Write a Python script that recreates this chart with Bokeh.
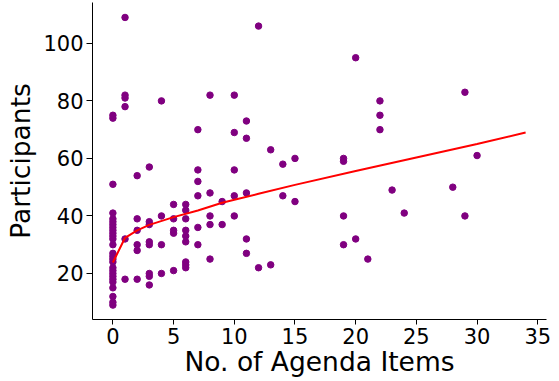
from bokeh.plotting import figure
from bokeh.models import Range1d, FixedTicker
from bokeh.embed import file_html
from bokeh.resources import INLINE

# ---- data ----
agenda_items = (
    [0] * 27
    + [1] * 6
    + [2] * 6
    + [3] * 8
    + [4] * 4
    + [5] * 5
    + [6] * 9
    + [7] * 6
    + [8] * 5
    + [9] * 2
    + [10] * 5
    + [11] * 5
    + [12] * 2
    + [13] * 2
    + [14] * 2
    + [15] * 2
    + [19] * 4
    + [20] * 2
    + [21]
    + [22] * 3
    + [23]
    + [24]
    + [28]
    + [29] * 2
    + [30]
)
participants = (
    [75, 74, 51, 41, 39, 38, 37, 36, 35, 34, 33, 32, 30, 27, 26, 25, 24, 22, 21, 20, 19, 18, 17, 15, 12, 10, 9]
    + [109, 82, 81, 78, 32, 18]
    + [54, 39, 35, 30, 28, 18]
    + [57, 38, 37, 31, 30, 20, 19, 16]
    + [80, 40, 30, 20]
    + [44, 39, 35, 34, 21]
    + [44, 42, 39, 35, 33, 31, 24, 23, 22]
    + [70, 56, 52, 47, 36, 30]
    + [82, 48, 40, 37, 25]
    + [45, 37]
    + [82, 69, 56, 47, 40]
    + [73, 67, 48, 32, 27]
    + [106, 22]
    + [63, 23]
    + [58, 47]
    + [60, 45]
    + [60, 59, 40, 30]
    + [95, 32]
    + [25]
    + [80, 75, 70]
    + [49]
    + [41]
    + [50]
    + [83, 40]
    + [61]
)

fit_x = [0, 1, 2, 3, 5, 7, 9, 12, 15, 20, 25, 30, 34]
fit_y = [23.8, 32.4, 35.0, 36.9, 39.6, 41.9, 44.6, 47.7, 50.8, 55.6, 60.3, 65.0, 69.0]

x_ticks = [0, 5, 10, 15, 20, 25, 30, 35]
y_ticks = [20, 40, 60, 80, 100]

x_title = "No. of Agenda Items"
y_title = "Participants"

FONT = "DejaVu Sans"

p = figure(
    width=555, height=379,
    output_backend="svg", toolbar_location=None,
    x_range=Range1d(-1.68, 35.72), y_range=Range1d(4.0, 114.2),
    min_border_left=92, min_border_right=9, min_border_top=2, min_border_bottom=58,
)
p.outline_line_color = None
p.grid.visible = False
p.background_fill_color = "white"
p.border_fill_color = "white"

p.scatter(agenda_items, participants, size=6.5, color="#800080", line_color="#800080")
p.line(fit_x, fit_y, color="red", line_width=2)

for ax in (p.xaxis[0], p.yaxis[0]):
    ax.axis_line_color = "black"
    ax.axis_line_width = 1
    ax.major_tick_line_color = "black"
    ax.major_tick_line_width = 1
    ax.major_tick_in = 0
    ax.minor_tick_line_color = None
    ax.major_label_text_font = FONT
    ax.major_label_text_font_size = "21px"
    ax.major_label_text_color = "black"
    ax.axis_label_text_font = FONT
    ax.axis_label_text_font_size = "26.5px"
    ax.axis_label_text_font_style = "normal"
    ax.axis_label_text_color = "black"

p.xaxis.ticker = FixedTicker(ticks=x_ticks)
p.yaxis.ticker = FixedTicker(ticks=y_ticks)
p.xaxis.major_tick_out = 5
p.yaxis.major_tick_out = 6
p.xaxis.major_label_standoff = 3
p.yaxis.major_label_standoff = 3

p.xaxis.axis_label = x_title
p.xaxis.axis_label_standoff = -1
p.yaxis.axis_label = y_title
p.yaxis.axis_label_standoff = 4

open("out.html", "w").write(file_html(p, INLINE))
